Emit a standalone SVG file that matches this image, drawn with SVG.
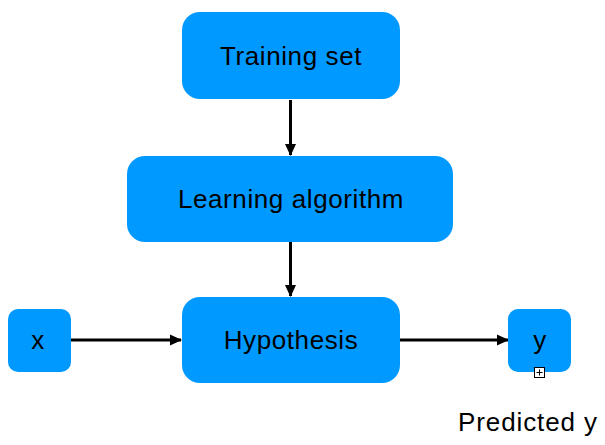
<svg xmlns="http://www.w3.org/2000/svg" width="605" height="445" viewBox="0 0 605 445">
<defs>
<style>
.box{fill:#0099ff;}
.lbl{font-family:"Liberation Sans",Arial,sans-serif;font-size:26px;letter-spacing:0.6px;fill:#000;text-anchor:middle;}
.edge{stroke:#000;stroke-width:3;fill:none;}
</style>
<marker id="arr" markerWidth="12" markerHeight="12" refX="11" refY="6" orient="auto" markerUnits="userSpaceOnUse">
<path d="M0,0.5 L12,6 L0,11.5 Z" fill="#000"/>
</marker>
</defs>
<rect width="605" height="445" fill="#fff"/>
<g id="connectors">
<line class="edge" x1="290.5" y1="100" x2="290.5" y2="155" marker-end="url(#arr)"/>
<line class="edge" x1="290.5" y1="242" x2="290.5" y2="296" marker-end="url(#arr)"/>
<line class="edge" x1="71" y1="340" x2="181" y2="340" marker-end="url(#arr)"/>
<line class="edge" x1="400" y1="340" x2="508" y2="340" marker-end="url(#arr)"/>
</g>
<g id="training-set">
<rect class="box" x="182" y="12" width="218" height="87" rx="18"/>
<text class="lbl" x="291" y="65">Training set</text>
</g>
<g id="learning-algorithm">
<rect class="box" x="127" y="156" width="326" height="86" rx="18"/>
<text class="lbl" x="291" y="208">Learning algorithm</text>
</g>
<g id="hypothesis">
<rect class="box" x="182" y="297" width="218" height="86" rx="18"/>
<text class="lbl" x="291" y="349">Hypothesis</text>
</g>
<g id="x">
<rect class="box" x="8" y="309" width="63" height="63" rx="10"/>
<text class="lbl" x="38" y="349">x</text>
</g>
<g id="y">
<rect class="box" x="508" y="309" width="63" height="63" rx="10"/>
<text class="lbl" x="540" y="349">y</text>
<rect x="534.5" y="367.5" width="10" height="10" fill="#fff" stroke="#000" stroke-width="1"/>
<path d="M536.5,372.5 H542.5 M539.5,369.5 V375.5" stroke="#000" stroke-width="1"/>
</g>
<g id="predicted-y">
<text x="458" y="431" font-family="Liberation Sans,Arial,sans-serif" font-size="26" letter-spacing="0.9" fill="#000">Predicted y</text>
</g>
</svg>
